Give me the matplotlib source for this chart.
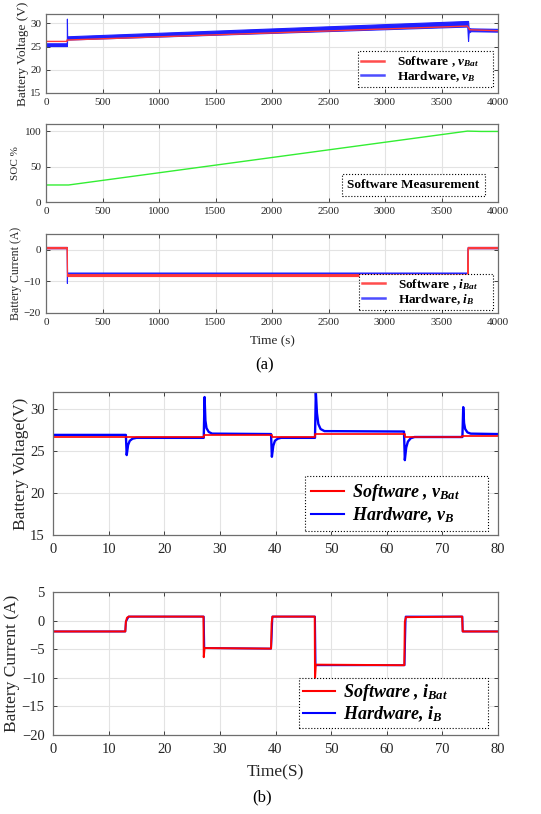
import numpy as np
import matplotlib
matplotlib.use("Agg")
import matplotlib.pyplot as plt

plt.rcParams['font.family'] = ['Liberation Serif', 'DejaVu Serif']
plt.rcParams['mathtext.fontset'] = 'custom'
plt.rcParams['mathtext.rm'] = 'Liberation Serif:bold'
plt.rcParams['mathtext.it'] = 'Liberation Serif:italic:bold'
plt.rcParams['mathtext.bf'] = 'Liberation Serif:bold'

# ---- (a) long run, 0..4000 s ----
a_sw_v_t = [0, 185, 186, 3730, 3750, 4000]
a_sw_v = [26.1, 26.1, 26.4, 29.4, 28.6, 28.4]

a_hw_v_t = [0, 184, 185, 187, 3728, 3735, 3740, 3760, 4000]
a_hw_v_lo = [25.1, 25.1, 25.1, 26.5, 29.3, 26.2, 28.0, 28.3, 28.2]
a_hw_v_hi = [25.7, 25.7, 31.0, 27.2, 30.5, 30.5, 29.0, 28.9, 28.8]

a_soc_t = [0, 200, 3730, 3850, 4000]
a_soc = [24, 24, 100, 99.5, 99.5]

a_sw_i_t = [0, 184, 186, 3730, 3732, 4000]
a_sw_i_lo = [0.5, 0.5, -8.3, -8.3, 0.5, 0.5]
a_sw_i_hi = [0.9, 0.9, -7.7, -7.7, 0.9, 0.9]

a_hw_i_t = [0, 184, 185, 186, 3730, 3732, 4000]
a_hw_i_lo = [0.5, 0.5, -10.5, -7.8, -7.8, 0.5, 0.5]
a_hw_i_hi = [0.9, 0.9, 0.9, -7.2, -7.2, 0.9, 0.9]

# ---- (b) step test, 0..80 s ----
b_sw_v_t = [0, 13.1, 13.1, 27.1, 27.1, 39.3, 39.3, 47.1, 47.1, 63.2, 63.2, 73.6, 73.6, 80]
b_sw_v = [26.7, 26.7, 26.6, 26.6, 26.9, 26.9, 26.6, 26.6, 27.0, 27.0, 26.7, 26.7, 26.8, 26.8]

b_hw_v_t = [0, 13.1, 13.25, 13.5, 13.8, 14.3, 15.0,
            27.1, 27.25, 27.4, 27.6, 28.0, 28.6,
            39.2, 39.35, 39.6, 39.9, 40.4, 41.0,
            47.1, 47.25, 47.45, 47.7, 48.1, 48.8,
            63.1, 63.25, 63.5, 63.8, 64.3, 65.0,
            73.6, 73.75, 73.9, 74.1, 74.5, 75.1, 80]
b_hw_v = [26.9, 26.9, 24.5, 25.7, 26.2, 26.45, 26.55,
          26.55, 31.4, 28.6, 27.7, 27.25, 27.05,
          27.0, 24.3, 25.6, 26.2, 26.45, 26.55,
          26.55, 32.0, 29.5, 28.2, 27.6, 27.35,
          27.3, 23.9, 25.4, 26.1, 26.5, 26.65,
          26.65, 30.2, 28.3, 27.6, 27.2, 27.05, 27.0]

b_sw_i_t = [0, 13.0, 13.1, 13.3, 13.6, 27.05, 27.1, 27.25, 39.2, 39.3, 39.45,
            47.05, 47.1, 47.25, 63.15, 63.25, 63.45, 73.55, 73.65, 80]
b_sw_i = [-1.9, -1.9, -0.2, 0.5, 0.7, 0.7, -6.4, -4.8, -4.9, -0.5, 0.7,
          0.7, -10.3, -7.7, -7.8, -0.2, 0.6, 0.7, -1.9, -1.9]

b_hw_i_t = [0, 13.0, 13.1, 13.6, 27.1, 27.2, 39.2, 39.3, 39.45, 47.1, 47.2,
            63.2, 63.4, 73.6, 73.65, 80]
b_hw_i = [-1.9, -1.9, -0.2, 0.7, 0.7, -4.8, -4.9, -3.0, 0.7, 0.7, -7.8,
          -7.8, 0.7, 0.7, -1.9, -1.9]

RED_A = '#ff3838'
BLUE_A = '#2020ff'
GRID = '#e3e3e3'
SPINE = '#6e6e6e'
TXT = '#262626'


def style(ax, fs, pad=3.5):
    ax.grid(True, color=GRID, lw=0.8)
    ax.set_axisbelow(True)
    ax.tick_params(direction='in', top=True, right=True, labelsize=fs,
                   colors=TXT, length=3, width=0.6, pad=pad)
    for s in ax.spines.values():
        s.set_color(SPINE)
        s.set_linewidth(0.9)


def legend(ax, labels, handles, fs, box, italic, hl, tp, bp, ls=0.1):
    # box = (x0, y0, width) in axes coords, legend stretched to that width
    prop = dict(size=fs, weight='bold', style='italic' if italic else 'normal')
    leg = ax.legend(handles, labels, loc='lower left',
                    bbox_to_anchor=(box[0], box[1], box[2], 0.1), mode='expand',
                    prop=prop, frameon=True, fancybox=False, borderaxespad=0,
                    handlelength=hl, handletextpad=tp, borderpad=bp,
                    labelspacing=ls)
    fr = leg.get_frame()
    fr.set_edgecolor('black')
    fr.set_linestyle(':')
    fr.set_linewidth(0.8)
    fr.set_alpha(1)
    return leg


fig = plt.figure(figsize=(5.41, 8.14), dpi=100)

L_A, W_A = 46 / 541, 452 / 541
L_B, W_B = 53 / 541, 445 / 541

# (a)-1 voltage
ax1 = fig.add_axes([L_A, 1 - 93 / 814, W_A, 79 / 814])
ax1.fill_between(a_hw_v_t, a_hw_v_lo, a_hw_v_hi, color=BLUE_A, lw=0.8)
ax1.plot(a_sw_v_t, a_sw_v, color=RED_A, lw=1.0)
ax1.set_xlim(0, 4000)
ax1.set_ylim(15, 32)
ax1.set_yticks([15, 20, 25, 30])
ax1.set_xticks(range(0, 4001, 500))
ax1.set_ylabel('Battery Voltage (V)', fontsize=9.5, color=TXT, labelpad=1)
style(ax1, 8)
h1 = [plt.Line2D([], [], color='#ff4d4d', lw=1.8), plt.Line2D([], [], color='#4d4dff', lw=1.8)]
legend(ax1, ['Software , $v_{Bat}$', 'Hardware, $v_{B}$'],
       h1, 9.5, (0.690, 0.076, 0.299), False, 1.7, 1.0, 0.25, 0.0)

# (a)-2 SOC
ax2 = fig.add_axes([L_A, 1 - 202 / 814, W_A, 78 / 814])
ax2.plot(a_soc_t, a_soc, color='#33ee33', lw=1.0)
ax2.set_xlim(0, 4000)
ax2.set_ylim(0, 110)
ax2.set_yticks([0, 50, 100])
ax2.set_xticks(range(0, 4001, 500))
ax2.set_ylabel('SOC %', fontsize=8, color=TXT, labelpad=3)
style(ax2, 8)
ax2.text(0.813, 0.218, 'Software Measurement', transform=ax2.transAxes,
         ha='center', va='center', fontsize=9.5, fontweight='bold',
         bbox=dict(boxstyle='square,pad=0.4', fc='white', ec='black', ls=':', lw=0.8))

# (a)-3 current
ax3 = fig.add_axes([L_A, 1 - 313 / 814, W_A, 79 / 814])
ax3.fill_between(a_hw_i_t, a_hw_i_lo, a_hw_i_hi, color=BLUE_A, lw=0.8)
ax3.fill_between(a_sw_i_t, a_sw_i_lo, a_sw_i_hi, color=RED_A, lw=0.8)
ax3.set_xlim(0, 4000)
ax3.set_ylim(-20, 5)
ax3.set_yticks([-20, -10, 0])
ax3.set_xticks(range(0, 4001, 500))
ax3.set_ylabel('Battery Current (A)', fontsize=8.5, color=TXT, labelpad=1)
ax3.set_xlabel('Time (s)', fontsize=9.5, color=TXT, labelpad=6)
style(ax3, 8)
legend(ax3, ['Software , $i_{Bat}$', 'Hardware, $i_{B}$'],
       h1, 9.5, (0.6925, 0.04, 0.2965), False, 1.7, 1.0, 0.25, 0.0)

fig.text(265 / 541, 1 - 365 / 814, '(a)', ha='center', va='center', fontsize=12, color='black')

# (b)-1 voltage
ax4 = fig.add_axes([L_B, 1 - 535 / 814, W_B, 143 / 814])
ax4.plot(b_hw_v_t, b_hw_v, color='#0000ff', lw=1.7)
ax4.plot(b_sw_v_t, b_sw_v, color='#ff0000', lw=1.2)
ax4.set_xlim(0, 80)
ax4.set_ylim(15, 32)
ax4.set_yticks([15, 20, 25, 30])
ax4.set_xticks(range(0, 81, 10))
ax4.set_ylabel('Battery Voltage(V)', fontsize=12.5, color=TXT, labelpad=1)
style(ax4, 10.5, pad=6)
h2 = [plt.Line2D([], [], color='#ff0000', lw=1.5), plt.Line2D([], [], color='#0000ff', lw=1.5)]
legend(ax4, ['Software , $v_{Bat}$', 'Hardware, $v_{B}$'],
       h2, 13, (0.566, 0.028, 0.411), True, 1.8, 0.45, 0.35)

# (b)-2 current
ax5 = fig.add_axes([L_B, 1 - 735 / 814, W_B, 143 / 814])
ax5.plot(b_hw_i_t, b_hw_i, color='#0000ff', lw=1.4)
ax5.plot(b_sw_i_t, b_sw_i, color='#ff0000', lw=1.4)
ax5.set_xlim(0, 80)
ax5.set_ylim(-20, 5)
ax5.set_yticks(range(-20, 6, 5))
ax5.set_xticks(range(0, 81, 10))
ax5.set_ylabel('Battery Current (A)', fontsize=12.5, color=TXT, labelpad=1)
ax5.set_xlabel('Time(S)', fontsize=12.5, color=TXT, labelpad=6)
style(ax5, 10.5, pad=6)
legend(ax5, ['Software , $i_{Bat}$', 'Hardware, $i_{B}$'],
       h2, 13, (0.553, 0.049, 0.4245), True, 1.8, 0.45, 0.2)

fig.text(262 / 541, 1 - 797 / 814, '(b)', ha='center', va='center', fontsize=12, color='black')

fig.savefig('out.png', dpi=100)
